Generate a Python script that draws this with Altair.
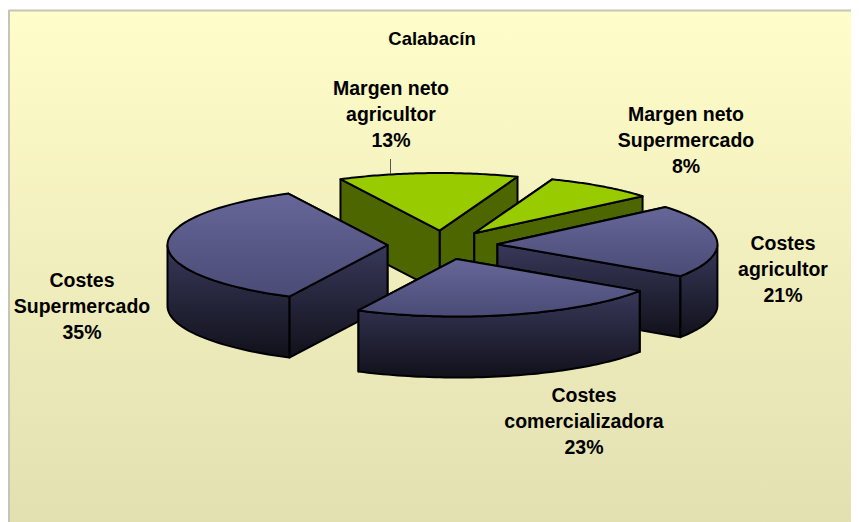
import math
import altair as alt
import pandas as pd

TITLE = "Calabacín"
NAMES = ["Costes\ncomercializadora", "Costes\nSupermercado", "Margen neto\nagricultor",
         "Margen neto\nSupermercado", "Costes\nagricultor"]
SHARES = [23.0, 35.2, 13.2, 8.1, 20.5]
SHOWN = [23, 35, 13, 8, 21]
GROUPS = ["blue", "blue", "green", "green", "blue"]

# layout (chart pixels)
W, H = 843, 514
CX, CY = 434.5, 237.0
RX, RY = 220.0, 57.6
DEPTH = 61.0
EXPLODE = 0.25
START_DEG = 33.7
LABEL_XY = [(576, 387.5), (74, 272.5), (383, 80.5), (678, 106.5), (775, 235.5)]


def grad(c0, c1):
    return alt.Gradient(
        gradient="linear", x1=0, y1=0, x2=0, y2=1,
        stops=[alt.GradientStop(color=c0, offset=0), alt.GradientStop(color=c1, offset=1)],
    )


FILLS = {
    "blue": {"top": grad("#666699", "#4b4b76"), "side": grad("#38385a", "#11111b")},
    "green": {"top": grad("#99cc00", "#99cc00"), "side": grad("#4d6600", "#4d6600")},
}
PROJ = dict(type="identity", scale=1, translate=[0, 0])


def face(points, fill, stroke="black", sw=2):
    ring = [[float(x), float(y)] for x, y in points]
    ring.append(ring[0])
    feat = {"type": "Feature", "properties": {},
            "geometry": {"type": "Polygon", "coordinates": [ring]}}
    return alt.Chart(alt.Data(values=[feat])).mark_geoshape(
        fill=fill, stroke=stroke, strokeWidth=sw, strokeJoin="round"
    ).project(**PROJ)


def slice_faces(t0, t1, group):
    mid = math.radians((t0 + t1) / 2)
    ax = CX + EXPLODE * RX * math.cos(mid)
    ay = CY + EXPLODE * RY * math.sin(mid)

    def rim(deg):
        a = math.radians(deg)
        return ax + RX * math.cos(a), ay + RY * math.sin(a)

    steps = [t0 + (t1 - t0) * i / 60 for i in range(61)]
    arc = [rim(d) for d in steps]
    fills = FILLS[group]
    down = lambda p: (p[0], p[1] + DEPTH)
    walls = []
    for p in sorted([arc[0], arc[-1]], key=lambda q: q[1]):
        walls.append(((ax, ay), p, down(p), (ax, ay + DEPTH)))
    out = [face(w, fills["side"]) for w in walls]
    front = [rim(d) for d in steps if math.sin(math.radians(d)) >= 0]
    if len(front) > 1:
        out.append(face(front + [down(p) for p in reversed(front)], fills["side"]))
    out.append(face([(ax, ay)] + arc, fills["top"]))
    return out


spans = {}
a = START_DEG
for i, s in enumerate(SHARES):
    spans[i] = (a, a + s * 3.6)
    a += s * 3.6

layers = [
    face([(1, 2.5), (W + 6, 2.5), (W + 6, H + 6), (1, H + 6)],
         grad("#fffdc9", "#e2dfb1"), stroke="#c6c3b8", sw=2)
]
for i in [2, 3, 1, 4, 0]:
    layers += slice_faces(spans[i][0], spans[i][1], GROUPS[i])

leader = alt.Chart(pd.DataFrame({"x": [382.5], "y": [151], "y2": [166]})).mark_rule(
    color="#555555", strokeWidth=1
).encode(
    x=alt.X("x:Q", scale=None, axis=None),
    y=alt.Y("y:Q", scale=None, axis=None),
    y2="y2:Q",
)

labels = pd.DataFrame({
    "t": [f"{n}\n{s}%" for n, s in zip(NAMES, SHOWN)],
    "x": [p[0] for p in LABEL_XY],
    "y": [p[1] for p in LABEL_XY],
})
label_text = alt.Chart(labels).mark_text(
    font="Liberation Sans", fontWeight="bold", fontSize=19.5, color="#000000",
    lineBreak="\n", lineHeight=26, align="center", baseline="middle",
).encode(
    x=alt.X("x:Q", scale=None, axis=None),
    y=alt.Y("y:Q", scale=None, axis=None),
    text="t:N",
)
title_text = alt.Chart(pd.DataFrame({"t": [TITLE], "x": [424], "y": [30.5]})).mark_text(
    font="Liberation Sans", fontWeight="bold", fontSize=18.5, color="#000000",
    align="center", baseline="middle",
).encode(
    x=alt.X("x:Q", scale=None, axis=None),
    y=alt.Y("y:Q", scale=None, axis=None),
    text="t:N",
)

chart = alt.layer(*layers, leader, label_text, title_text).properties(
    width=W, height=H, padding=0, background="white",
    autosize=alt.AutoSizeParams(type="none"),
).configure_view(stroke=None)

chart.save("out.html", embed_options={"renderer": "svg", "actions": False})
